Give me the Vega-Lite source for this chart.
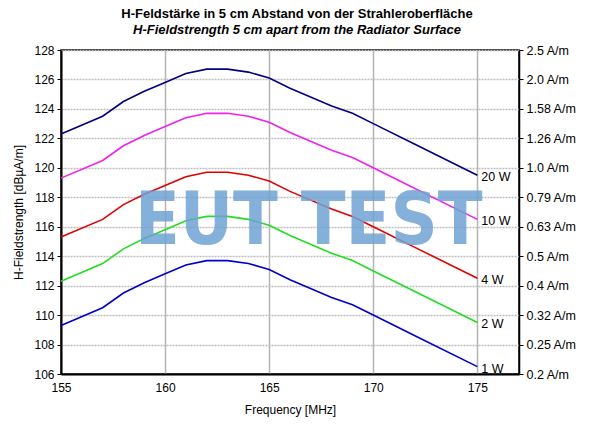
{
  "$schema": "https://vega.github.io/schema/vega-lite/v6.json",
  "width": 458,
  "height": 324,
  "autosize": "none",
  "padding": {"left": 61, "top": 50, "right": 76, "bottom": 50},
  "title": {
    "text": "H-Feldstärke in 5 cm Abstand von der Strahleroberfläche",
    "subtitle": "H-Fieldstrength 5 cm apart from the Radiator Surface",
    "anchor": "middle", "dx": 7, "offset": 7,
    "fontSize": 13, "fontWeight": "bold", "color": "black",
    "subtitleFontSize": 13, "subtitleFontWeight": "bold", "subtitleFontStyle": "italic",
    "subtitleColor": "black", "subtitlePadding": 3
  },
  "datasets": {
    "curves": [
      {"series": "20 W", "f": 155, "v": 122.3}, {"series": "20 W", "f": 157, "v": 123.5}, {"series": "20 W", "f": 158, "v": 124.5}, {"series": "20 W", "f": 159, "v": 125.2},
      {"series": "20 W", "f": 160, "v": 125.8}, {"series": "20 W", "f": 161, "v": 126.4}, {"series": "20 W", "f": 162, "v": 126.7}, {"series": "20 W", "f": 163, "v": 126.7},
      {"series": "20 W", "f": 164, "v": 126.5}, {"series": "20 W", "f": 165, "v": 126.1}, {"series": "20 W", "f": 166, "v": 125.4}, {"series": "20 W", "f": 168, "v": 124.2},
      {"series": "20 W", "f": 169, "v": 123.7}, {"series": "20 W", "f": 170, "v": 123.0}, {"series": "20 W", "f": 172, "v": 121.6}, {"series": "20 W", "f": 175, "v": 119.5},
      {"series": "10 W", "f": 155, "v": 119.3}, {"series": "10 W", "f": 157, "v": 120.5}, {"series": "10 W", "f": 158, "v": 121.5}, {"series": "10 W", "f": 159, "v": 122.2},
      {"series": "10 W", "f": 160, "v": 122.8}, {"series": "10 W", "f": 161, "v": 123.4}, {"series": "10 W", "f": 162, "v": 123.7}, {"series": "10 W", "f": 163, "v": 123.7},
      {"series": "10 W", "f": 164, "v": 123.5}, {"series": "10 W", "f": 165, "v": 123.1}, {"series": "10 W", "f": 166, "v": 122.4}, {"series": "10 W", "f": 168, "v": 121.2},
      {"series": "10 W", "f": 169, "v": 120.7}, {"series": "10 W", "f": 170, "v": 120.0}, {"series": "10 W", "f": 172, "v": 118.6}, {"series": "10 W", "f": 175, "v": 116.5},
      {"series": "4 W", "f": 155, "v": 115.3}, {"series": "4 W", "f": 157, "v": 116.5}, {"series": "4 W", "f": 158, "v": 117.5}, {"series": "4 W", "f": 159, "v": 118.2},
      {"series": "4 W", "f": 160, "v": 118.8}, {"series": "4 W", "f": 161, "v": 119.4}, {"series": "4 W", "f": 162, "v": 119.7}, {"series": "4 W", "f": 163, "v": 119.7},
      {"series": "4 W", "f": 164, "v": 119.5}, {"series": "4 W", "f": 165, "v": 119.1}, {"series": "4 W", "f": 166, "v": 118.4}, {"series": "4 W", "f": 168, "v": 117.2},
      {"series": "4 W", "f": 169, "v": 116.7}, {"series": "4 W", "f": 170, "v": 116.0}, {"series": "4 W", "f": 172, "v": 114.6}, {"series": "4 W", "f": 175, "v": 112.5},
      {"series": "2 W", "f": 155, "v": 112.3}, {"series": "2 W", "f": 157, "v": 113.5}, {"series": "2 W", "f": 158, "v": 114.5}, {"series": "2 W", "f": 159, "v": 115.2},
      {"series": "2 W", "f": 160, "v": 115.8}, {"series": "2 W", "f": 161, "v": 116.4}, {"series": "2 W", "f": 162, "v": 116.7}, {"series": "2 W", "f": 163, "v": 116.7},
      {"series": "2 W", "f": 164, "v": 116.5}, {"series": "2 W", "f": 165, "v": 116.1}, {"series": "2 W", "f": 166, "v": 115.4}, {"series": "2 W", "f": 168, "v": 114.2},
      {"series": "2 W", "f": 169, "v": 113.7}, {"series": "2 W", "f": 170, "v": 113.0}, {"series": "2 W", "f": 172, "v": 111.6}, {"series": "2 W", "f": 175, "v": 109.5},
      {"series": "1 W", "f": 155, "v": 109.3}, {"series": "1 W", "f": 157, "v": 110.5}, {"series": "1 W", "f": 158, "v": 111.5}, {"series": "1 W", "f": 159, "v": 112.2},
      {"series": "1 W", "f": 160, "v": 112.8}, {"series": "1 W", "f": 161, "v": 113.4}, {"series": "1 W", "f": 162, "v": 113.7}, {"series": "1 W", "f": 163, "v": 113.7},
      {"series": "1 W", "f": 164, "v": 113.5}, {"series": "1 W", "f": 165, "v": 113.1}, {"series": "1 W", "f": 166, "v": 112.4}, {"series": "1 W", "f": 168, "v": 111.2},
      {"series": "1 W", "f": 169, "v": 110.7}, {"series": "1 W", "f": 170, "v": 110.0}, {"series": "1 W", "f": 172, "v": 108.6}, {"series": "1 W", "f": 175, "v": 106.5}
    ],
    "mark": [{"text": "EUT TEST", "f": 166.9, "v": 114.8}]
  },
  "layer": [
    {
      "data": {"name": "curves"},
      "mark": {"type": "line", "strokeWidth": 1.6},
      "encoding": {
        "x": {"field": "f", "type": "quantitative", "scale": {"domain": [155, 177], "nice": false},
          "axis": {"values": [155, 160, 165, 170, 175], "title": "Frequency [MHz]", "ticks": false, "labelPadding": 8,
            "titlePadding": 11, "grid": true, "gridColor": "#b4b4b4", "gridWidth": 1.5,
            "domainColor": "black", "domainWidth": 2, "labelFlush": false}},
        "y": {"field": "v", "type": "quantitative", "scale": {"domain": [106, 128], "nice": false},
          "axis": {"values": [106, 108, 110, 112, 114, 116, 118, 120, 122, 124, 126, 128], "title": "H-Fieldstrength [dBµA/m]",
            "tickSize": 4, "tickColor": "black", "labelPadding": 3, "titlePadding": 8,
            "grid": true, "gridColor": "#bdbdbd", "gridWidth": 1.5, "gridDash": [2, 1],
            "domainColor": "black", "domainWidth": 2}},
        "color": {"field": "series", "type": "nominal", "legend": null,
          "scale": {"domain": ["20 W", "10 W", "4 W", "2 W", "1 W"], "range": ["#000080", "#ee22ee", "#e00000", "#22dd22", "#0000cc"]}}
      }
    },
    {
      "data": {"name": "mark"},
      "mark": {"type": "text", "font": "DejaVu Sans Condensed", "fontWeight": "bold", "fontSize": 73,
        "color": "#6fa3d4", "opacity": 0.85, "baseline": "alphabetic", "align": "center"},
      "encoding": {
        "x": {"field": "f", "type": "quantitative"},
        "y": {"field": "v", "type": "quantitative", "scale": {"domain": [106, 128], "nice": false}, "axis": null},
        "text": {"field": "text"}
      }
    },
    {
      "data": {"name": "curves"},
      "transform": [{"filter": "datum.f == 175"}],
      "mark": {"type": "text", "align": "left", "baseline": "middle", "dx": 4, "dy": 2, "fontSize": 12.5, "color": "black"},
      "encoding": {
        "x": {"field": "f", "type": "quantitative"},
        "y": {"field": "v", "type": "quantitative", "scale": {"domain": [106, 128], "nice": false},
          "axis": {"orient": "right", "values": [106, 108, 110, 112, 114, 116, 118, 120, 122, 124, 126, 128], "title": null,
            "labelExpr": "['0.2','0.25','0.32','0.4','0.5','0.63','0.79','1.0','1.26','1.58','2.0','2.5'][(datum.value - 106) / 2] + ' A/m'",
            "tickSize": 4, "tickColor": "black", "labelPadding": 3, "grid": false, "labelFontSize": 12.5,
            "domainColor": "black", "domainWidth": 1.5}},
        "text": {"field": "series"}
      }
    }
  ],
  "resolve": {"scale": {"y": "independent"}},
  "config": {
    "font": "Liberation Sans",
    "view": {"stroke": "black", "strokeWidth": 1.5},
    "axis": {"labelFontSize": 12, "labelColor": "black", "titleFontSize": 12, "titleFontWeight": "normal", "titleColor": "black"}
  }
}
